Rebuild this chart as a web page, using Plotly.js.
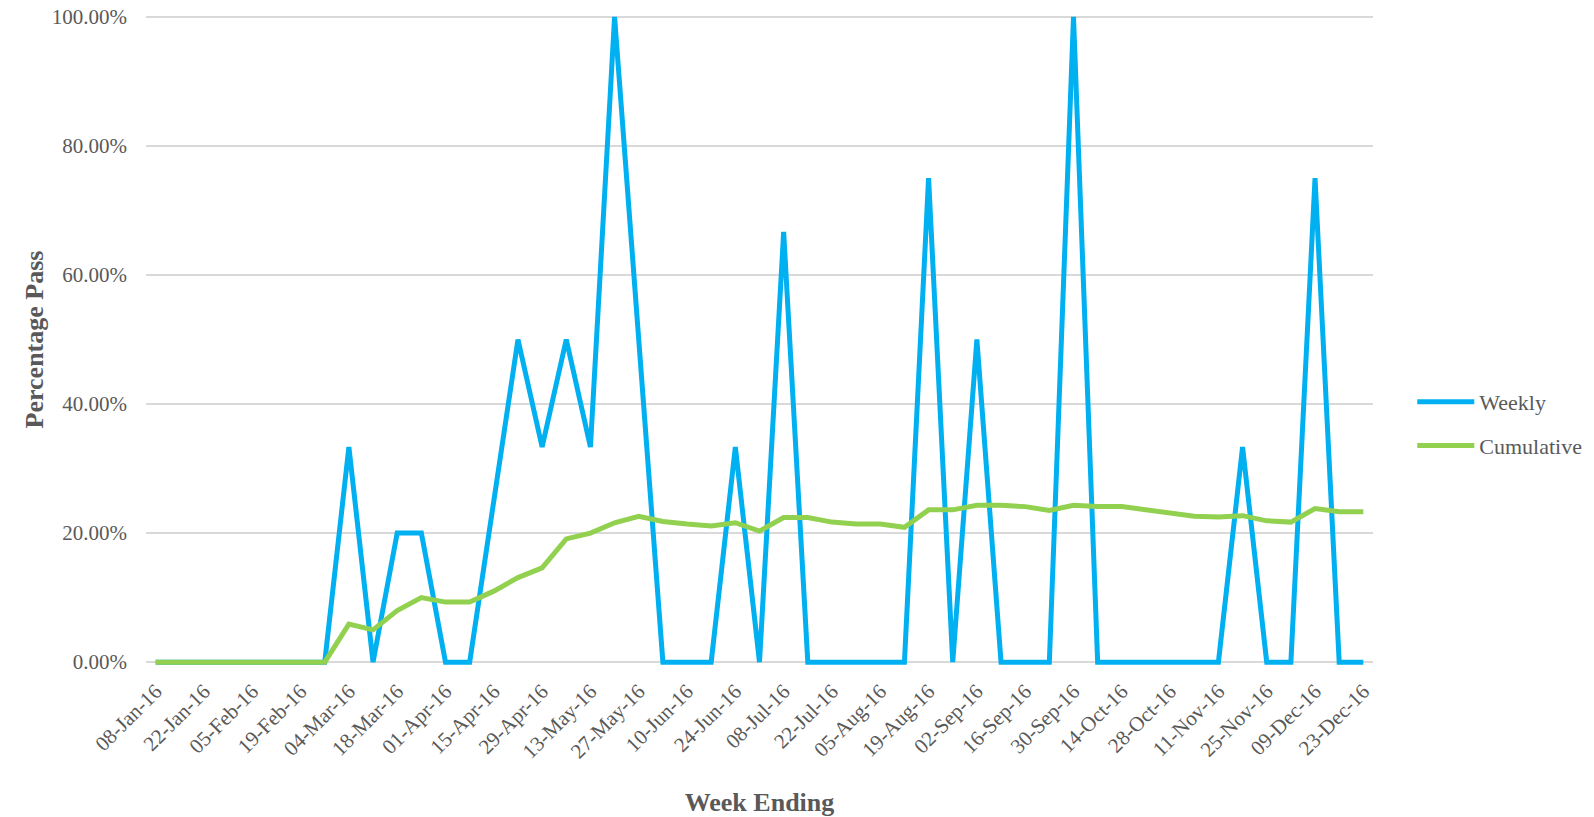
<!DOCTYPE html>
<html>
<head>
<meta charset="utf-8">
<script src="https://cdn.plot.ly/plotly-3.0.1.min.js"></script>
<style>
  html, body { margin: 0; padding: 0; background: #ffffff; }
  #chart { width: 1594px; height: 817px; }
</style>
</head>
<body>
<div id="chart"></div>
<script>
// Week-ending categories
const weeks = [
  "08-Jan-16","15-Jan-16","22-Jan-16","29-Jan-16","05-Feb-16","12-Feb-16","19-Feb-16","26-Feb-16",
  "04-Mar-16","11-Mar-16","18-Mar-16","25-Mar-16","01-Apr-16","08-Apr-16","15-Apr-16","22-Apr-16",
  "29-Apr-16","06-May-16","13-May-16","20-May-16","27-May-16","03-Jun-16","10-Jun-16","17-Jun-16",
  "24-Jun-16","01-Jul-16","08-Jul-16","15-Jul-16","22-Jul-16","29-Jul-16","05-Aug-16","12-Aug-16",
  "19-Aug-16","26-Aug-16","02-Sep-16","09-Sep-16","16-Sep-16","23-Sep-16","30-Sep-16","07-Oct-16",
  "14-Oct-16","21-Oct-16","28-Oct-16","04-Nov-16","11-Nov-16","18-Nov-16","25-Nov-16","02-Dec-16",
  "09-Dec-16","16-Dec-16","23-Dec-16"
];

// Tick labels shown on the x axis (every second week)
const tickLabels = [
  "08-Jan-16","22-Jan-16","05-Feb-16","19-Feb-16","04-Mar-16","18-Mar-16","01-Apr-16","15-Apr-16",
  "29-Apr-16","13-May-16","27-May-16","10-Jun-16","24-Jun-16","08-Jul-16","22-Jul-16","05-Aug-16",
  "19-Aug-16","02-Sep-16","16-Sep-16","30-Sep-16","14-Oct-16","28-Oct-16","11-Nov-16","25-Nov-16",
  "09-Dec-16","23-Dec-16"
];

// Weekly pass rate (fraction)
const weekly = [
  0, 0, 0, 0, 0, 0, 0, 0,
  0.3333, 0, 0.20, 0.20, 0, 0, 0.25, 0.50,
  0.3333, 0.50, 0.3333, 1.00, 0.50, 0, 0, 0,
  0.3333, 0, 0.6667, 0, 0, 0, 0, 0,
  0.75, 0, 0.50, 0, 0, 0, 1.00, 0,
  0, 0, 0, 0, 0, 0.3333, 0, 0,
  0.75, 0, 0
];

// Cumulative pass rate (fraction)
const cumulative = [
  0, 0, 0, 0, 0, 0, 0, 0,
  0.0588, 0.050, 0.080, 0.100, 0.093, 0.093, 0.110, 0.131,
  0.146, 0.191, 0.200, 0.216, 0.226, 0.218, 0.214, 0.211,
  0.216, 0.203, 0.224, 0.224, 0.217, 0.214, 0.214, 0.209,
  0.236, 0.236, 0.243, 0.243, 0.241, 0.235, 0.243, 0.241,
  0.241, 0.236, 0.231, 0.226, 0.225, 0.227, 0.219, 0.217,
  0.238, 0.233, 0.233
];

const yTicks = [0, 0.2, 0.4, 0.6, 0.8, 1.0];

const FONT = "Liberation Serif, 'Times New Roman', serif";
const TXT = "#595959";

const traces = [
  {
    x: weeks, y: weekly, name: "Weekly", type: "scatter", mode: "lines",
    line: { color: "#00B0F0", width: 5, shape: "linear" },
    legendgroup: "a", hoverinfo: "skip"
  },
  {
    x: weeks, y: cumulative, name: "Cumulative", type: "scatter", mode: "lines",
    line: { color: "#92D050", width: 5, shape: "linear" },
    legendgroup: "b", hoverinfo: "skip"
  }
];

const layout = {
  width: 1594, height: 817,
  margin: { l: 146, r: 221, t: 13, b: 151, pad: 0 },
  paper_bgcolor: "#ffffff", plot_bgcolor: "#ffffff",
  font: { family: FONT, color: TXT, size: 21 },
  showlegend: true,
  legend: {
    xref: "container", yref: "container",
    x: 0.886, xanchor: "left", y: 0.481, yanchor: "middle",
    font: { family: FONT, size: 22, color: TXT },
    itemwidth: 57,
    tracegroupgap: 12, bgcolor: "rgba(0,0,0,0)"
  },
  xaxis: {
    type: "category",
    range: [-0.4, weeks.length - 0.6],
    tickmode: "array", tickvals: tickLabels, ticktext: tickLabels,
    tickangle: -45,
    tickfont: { family: FONT, size: 21, color: TXT },
    showgrid: false, zeroline: false, showline: false, ticks: "",
    ticklabelstandoff: 8,
    automargin: false,
    title: { text: "<b>Week Ending</b>", font: { family: FONT, size: 26, color: TXT }, standoff: 34 }
  },
  yaxis: {
    range: [-0.006, 1.006],
    tickmode: "array", tickvals: yTicks,
    tickformat: ".2%",
    tickfont: { family: FONT, size: 21, color: TXT },
    showgrid: true, gridcolor: "#D9D9D9", gridwidth: 1.3,
    zeroline: false, showline: false, ticks: "",
    ticklabelstandoff: 18,
    automargin: false,
    title: { text: "<b>Percentage Pass</b>", font: { family: FONT, size: 26, color: TXT }, standoff: 0 }
  },
  hovermode: false
};

Plotly.newPlot("chart", traces, layout, { displayModeBar: false, staticPlot: true });
</script>
</body>
</html>
